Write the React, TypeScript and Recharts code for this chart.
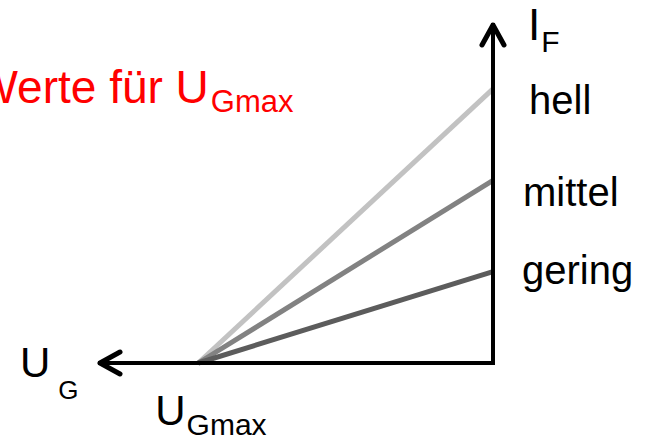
import { LineChart, Line, XAxis, YAxis, LabelList } from "recharts"

// gate voltage (U_G) and forward current (I_F) in arbitrary units
const UG_MAX = 3
const ugPoints = [UG_MAX, 0]
const hell = [0, 3]
const mittel = [0, 2]
const gering = [0, 1]

const series = [
  { key: "hell", name: "hell", values: hell, color: "#c2c2c2", dx: 36, dy: 25 },
  { key: "mittel", name: "mittel", values: mittel, color: "#828282", dx: 30, dy: 26 },
  { key: "gering", name: "gering", values: gering, color: "#5c5c5c", dx: 29, dy: 12 },
]

const data = ugPoints.map((ug, i) => ({
  ug,
  hell: hell[i],
  mittel: mittel[i],
  gering: gering[i],
}))

const font = "'Liberation Sans', Arial, sans-serif"

const EndLabel = (props: any, name: string, dx: number, dy: number) => {
  const { x, y, index } = props
  if (index !== data.length - 1) return null
  return (
    <text x={x + dx} y={y + dy} fontSize={40} fontFamily={font} fill="#000">
      {name}
    </text>
  )
}

const UgMaxTick = (props: any) => {
  const { x, y } = props
  return (
    <text x={x - 43} y={y + 62} fontSize={42} fontFamily={font} fill="#000">
      U
      <tspan fontSize={30} dx={1} dy={10}>
        Gmax
      </tspan>
    </text>
  )
}

const axisLine = {
  stroke: "#000",
  strokeWidth: 4,
  strokeLinecap: "square",
  markerStart: "url(#arrowHead)",
}

export default function App() {
  return (
    <div style={{ position: "absolute", left: 0, top: 0, width: 652, height: 436, background: "#fff" }}>
      <LineChart
        width={652}
        height={436}
        data={data}
        margin={{ top: 25, right: 99, bottom: 13, left: 100 }}
      >
        <defs>
          <marker
            id="arrowHead"
            markerUnits="userSpaceOnUse"
            markerWidth={40}
            markerHeight={40}
            viewBox="-30 -20 40 40"
            refX={0}
            refY={0}
            orient="auto-start-reverse"
          >
            <path
              d="M -20 -11 L 0 0 L -20 11"
              fill="none"
              stroke="#000"
              strokeWidth={5}
              strokeLinecap="round"
              strokeLinejoin="round"
            />
          </marker>
        </defs>
        <XAxis
          dataKey="ug"
          type="number"
          domain={[0, 4]}
          reversed
          height={60}
          ticks={[UG_MAX]}
          tickSize={0}
          tickMargin={0}
          tickLine={false}
          tick={UgMaxTick}
          axisLine={axisLine}
        />
        <YAxis
          type="number"
          orientation="right"
          domain={[0, 3.7]}
          width={60}
          tick={false}
          tickLine={false}
          axisLine={axisLine}
        />
        {series.map((s) => (
          <Line
            key={s.key}
            dataKey={s.key}
            stroke={s.color}
            strokeWidth={5}
            dot={false}
            activeDot={false}
            isAnimationActive={false}
          >
            <LabelList content={(p: any) => EndLabel(p, s.name, s.dx, s.dy)} />
          </Line>
        ))}
        <text x={-25.5} y={103} fontSize={46} fontFamily={font} fill="#ff0000">
          Werte für U
          <tspan fontSize={31} dx={2} dy={9}>
            Gmax
          </tspan>
        </text>
        <text x={528} y={40} fontSize={44} fontFamily={font} fill="#000">
          I
          <tspan fontSize={30} dx={1} dy={12}>
            F
          </tspan>
        </text>
        <text x={20} y={377} fontSize={42} fontFamily={font} fill="#000">
          U
          <tspan fontSize={26} dx={8} dy={22}>
            G
          </tspan>
        </text>
      </LineChart>
    </div>
  )
}
